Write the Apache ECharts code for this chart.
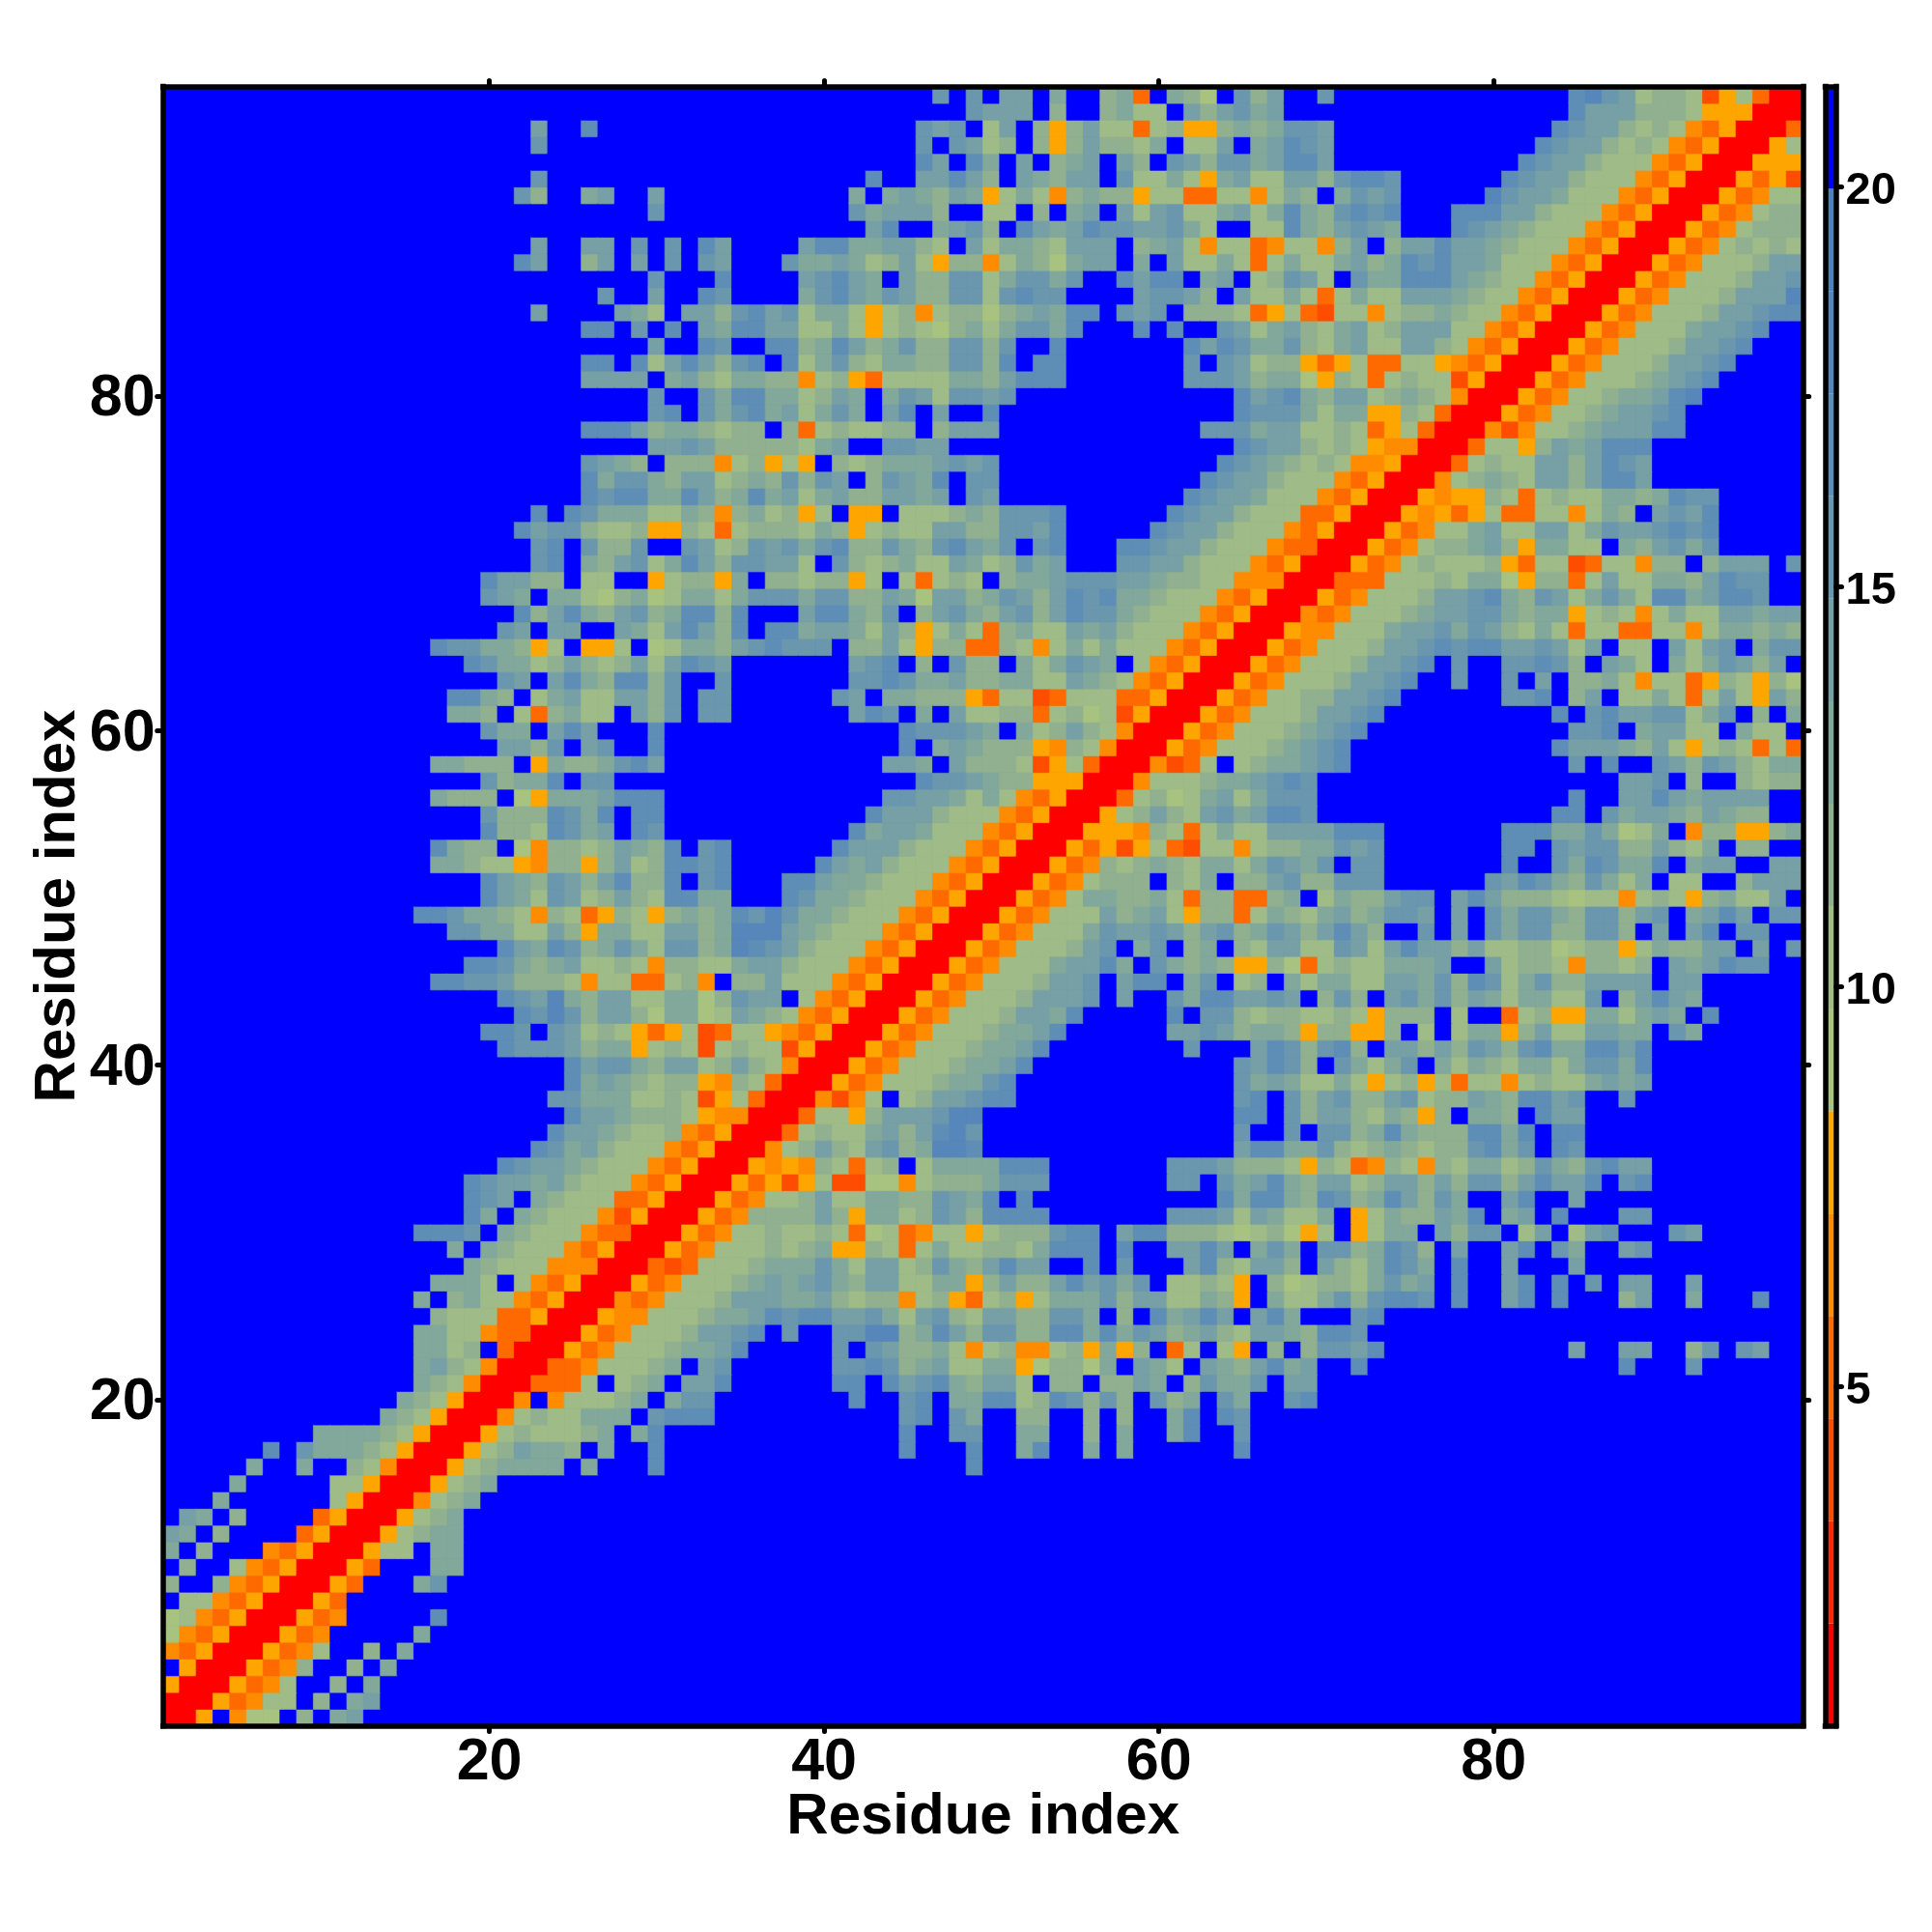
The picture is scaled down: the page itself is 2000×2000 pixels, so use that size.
<!DOCTYPE html>
<html><head><meta charset="utf-8">
<style>html,body{margin:0;padding:0;background:#fff}#c{width:2000px;height:2000px}</style>
<script src="https://cdn.jsdelivr.net/npm/echarts@6/dist/echarts.min.js"></script></head>
<body><div id="c"></div>
<script>
// Distance level per cell of the symmetric matrix. Each string is one row j = 1..98,
// starting at column i = j; one hex digit per cell, a level of 0..15. Omitted tail = level 15.
const rows = [
"005f466f8f9a",
"0053477f8f9a",
"005347ff8f9",
"005348ff8f9",
"005347ff8f9",
"00534fffff9",
"00534fffffc",
"0053",
"0053fff9b",
"0053fff99",
"00577f99",
"0057899",
"005789",
"004789",
"005789",
"005789999f9fffc ffffffffffffffffff c",
"00578a998f9ffc ffffffffffffff c fff c ff 9c ff 9 f 9 ffffff c",
"0057877789f9c ffffffffffffff c ff bb ff 99 ff 8 f 9 ff 9c ff b",
"0047877999fb ccc fffffffffff bc f b9 ff 88 ff 8f8 ff 9cfcb",
"004f477789f 9bb ffffffff c ff bc f 99 cc 78 cb 8b8 fb 89fb9 ff bc",
"003337f789 faac ffffff cc f c abc 98 aa 7f 88 f 88 a9 f8b99bf aa",
"003347778 9fab ffffff bbcb 89a 77 99 56 886 9fa9 7fa98ac9a ff c fffffffffffffff c fff b",
"00534777 899ac fffff bfba 889 74 78 44 785 958f 37f75f8f8 bbac fffffffffff a ff aa ff 8b f ba",
"0053477 78aabc fbff bbdd 89ca8 bb88cc9c9ba 89a87aa98ccb",
"005447 77899acbcc aab97ab87aa88bb9f8fc 9acafac9 fff bc",
"00434 7778aaa99a 8788478537 857999b8aa 77985f9779 b8bccbfcff acfcfff8af f9fffc",
"0053 477789a9ab 98aa779958 a88acab9bf 77875f8678 879b9afcff acfcfbfaaf fa",
"003 237778999b 97aa78b98a caaffcfbff fac87aa8fa 879cb9fcff afffafffff",
"00 5347778789 5587379778 879cccfcff aacaf9b9fb b89cb8faff acfb9ffabf",
"0 0534778778 7367347757 888bccfacc 8887678657 f5799fa8bb f7af7abfff ba",
"005348888a 859978ba8c cccfffffff bbba7a9779 f57988a9cf 9afcfffbbf",
"00534778a 779988ba9c fcffffffff fffc9cc98c b89ca8b9ff acffa",
"00535257 2266478889 bbbfffffff bbfb9ac98a a78aa8a8bb 8acaacfbcf",
"0054548 7378f79999 cccfffffff bbba888758 7348748799 78b98bcaaf",
"00478a 87ab89ddcf ffffffffff ffffacc99b 87898788bc 9bfcb",
"00378 779a8acdbf ffffffffff ffffbffbfb b89c9888cc 9cfcc",
"0037 758aaabddf ffffffffff ffffccfb8a a879858f99 8fcaa",
"004 247f78aabc cfffffffff ffffbcfb8a b88ab788a9 8ccabffbf",
"00 534777899b cfffffffff ffffb9a977 9757857377 478779a9af",
"0 0534777899 acffffffff ffffbacb8f b979bf9798 79979bb9cf",
"0053477789 9acfffffff fbfffacb8b c8faa8a8ba 8bc99ccacf",
"005347778 99acffffff aaba899858 8558f7f799 58a77aa99fb9",
"00534777 8aa9c fffff cfbb 8788 77875888f7ff378559979a9fc",
"005347778aaabfaffb9ccaaba f8b8fab9b8a979977bf8aca9",
"005347778aabfaccf9bf78f9 79977aa9b8cb79b88aaaafaa",
"005347779aac9fb98985586 37877999affa788748878fa9acbb",
"005347778abf9bf89f87aa 77ba7acaa8a7788678857988aafafb",
"005347779baaba8ab89ba 8aca8ffbfafb9bb88bb8fafacfbbff",
"00534777a89a75883798 79a89bbafafb9bb98bb8abf9acafbb",
"0053479988973883389 f7988abbfa ca88876774 78758977af",
"005347888f879f88ab 88bbbffffff bacb98b979f77ff8aaa",
"005348789879979ba 9bfbb fffffff cffb9cb99cf9aaffaa",
"0053525732774788 99bab fffffff ccfbabb88a879f88ff",
"0055548737977aa aaccc fffffff ccc99b9679f4885589",
"00578a87ab9acc b ffffffffffffff ccfb9aa98a988ff",
"00378679a79bb b fffffffffffffff cffaaca9aaaaff",
"004777899abc b ffffffffffffffffff aabf8ff8788",
"004237f7899 abc fffffffffffff bfcffba8ba8799",
"0053477789 abc ffffffffffff caaa98a75787373",
"005347778 9abc ffffffffffff bbcf9aa77f977f",
"00534777 8aabc ffffffffff cfbcaabb79bf8f9",
"0053477 88aabc ffffff bbcf8af779737a75a8",
"005347 778aabcffb ffbfaf8897 4773587586",
"00534 7778aabcfb ffbbcb8fa9 7f979ba8af",
"0053 47778aabcb ccaaba7af7 7fa7abf9bb",
"005 447779aab9 ba87973773 3774799898",
"00 43477789aa bb98995787 47977aa9aa",
"0 05347778aa bc98ba79b9 7cc9accbff",
"0033377787 99658837a7 7998acbbff",
"0053478777 8537723774 88f8aaafb",
"005347889a 859977f98a b9bfffff",
"00534779a7 7aa79baabc bcfffff",
"0054535733 774798faba cfffff",
"0054558737 8779989cbb fffff",
"00478987aa8acca",
"0037877aa8acba",
"0037758a9accc",
"004247789aaacc",
"005347789aabc",
"0053477899acd",
"0053477789abc",
"005347778aabc",
"005347778aabc",
"005347779aabc",
"005347778aabcc",
"005347778aaad",
"005347778aab",
"005347778aa",
"0053478787",
"005347888",
"00534788",
"0053477",
"005352",
"00555",
"0057",
"003",
"00",
"0"
];
const levelColors = ["#ff0000","#ff2a00","#ff4d00","#ff6a00","#ff8c00","#ffa500",
  "#a8c280","#9fbb87","#90b08f","#82a89b","#76a0a5","#6a97ae","#5e8eb5","#5787ba","#5080c0","#0000ff"];
const levelStart = 0.76, levelStep = 1.281;
const xTicks = ["20","40","60","80"];
const barTicks = [5,10,15,20];
const title = "Residue index";

const N = rows.length;
const cats = Array.from({length:N},(_,k)=>String(k+1));
const cells = [];
const cell = (x,y,lv)=>({
  value:[x,y,levelStart+levelStep*(lv+0.5)],
  itemStyle:{color:levelColors[lv],borderColor:levelColors[lv],borderWidth:0.7}
});
rows.forEach((r,jj)=>{
  const s = r.replace(/ /g,'').padEnd(N-jj,'f');
  for(let ii=jj;ii<N;ii++){
    const lv = parseInt(s[ii-jj],16);
    cells.push(cell(ii,jj,lv));
    if(ii!==jj) cells.push(cell(jj,ii,lv));
  }
});
const font = '"Liberation Sans", Arial, sans-serif';
const show = (idx,val)=>xTicks.includes(val);
const line = {show:true,onZero:false,lineStyle:{color:'#000',width:5.5,cap:'square'}};
const tick = {show:true,interval:show,alignWithLabel:true,length:6,lineStyle:{color:'#000',width:5,cap:'round'}};
const lab = {show:true,interval:show,color:'#000',fontFamily:font,fontWeight:'bold',fontSize:61};
const nameStyle = {color:'#000',fontFamily:font,fontWeight:'bold',fontSize:60};
const catAxis = o=>Object.assign({type:'category',data:cats,gridIndex:0,axisLine:line,axisTick:tick,splitLine:{show:false},z:10,boundaryGap:true},o);
const barBase = {type:'bar',stack:'c',xAxisIndex:2,yAxisIndex:2,barWidth:'100%',silent:true,animation:false};
const barSeries = levelColors.map((c,k)=>Object.assign({},barBase,{
  name:'L'+k,
  data:[ k===0 ? levelStart+levelStep : levelStep ],
  itemStyle:{color:c}
}));
const chart = echarts.init(document.getElementById('c'),null,{renderer:'canvas'});
chart.setOption({
  animation:false,
  backgroundColor:'#fff',
  grid:[
    {left:168.7,top:89.5,width:1698,height:1697,show:true,backgroundColor:'#0000ff',borderWidth:0},
    {left:1889.5,top:89.5,width:11,height:1697}
  ],
  xAxis:[
    catAxis({position:'bottom',axisLabel:Object.assign({},lab,{margin:8}),name:title,nameLocation:'middle',nameGap:65,nameMoveOverlap:false,nameTextStyle:nameStyle}),
    catAxis({position:'top',axisLabel:{show:false}}),
    {type:'category',data:['c'],gridIndex:1,position:'bottom',axisLine:line,axisTick:{show:false},axisLabel:{show:false},z:10},
    {type:'category',data:['c'],gridIndex:1,position:'top',axisLine:line,axisTick:{show:false},axisLabel:{show:false},z:10}
  ],
  yAxis:[
    catAxis({position:'left',axisLabel:Object.assign({},lab,{margin:8,verticalAlign:'top',padding:[-27,0,0,0]}),name:title,nameLocation:'middle',nameGap:78,nameMoveOverlap:false,nameRotate:90,nameTextStyle:nameStyle}),
    catAxis({position:'right',axisLabel:{show:false}}),
    {type:'value',gridIndex:1,position:'right',min:levelStart,max:levelStart+16*levelStep,splitLine:{show:false},axisLine:line,z:10,
     axisTick:{show:true,customValues:barTicks,length:6,lineStyle:{color:'#000',width:5,cap:'round'}},
     axisLabel:{show:true,customValues:barTicks,margin:10,verticalAlign:'top',padding:[-19,0,0,0],color:'#000',fontFamily:font,fontWeight:'bold',fontSize:47,formatter:v=>String(v)}},
    {type:'value',gridIndex:1,position:'left',min:levelStart,max:levelStart+16*levelStep,splitLine:{show:false},axisLine:line,axisTick:{show:false},axisLabel:{show:false},z:10}
  ],
  series:[{type:'heatmap',xAxisIndex:0,yAxisIndex:0,data:cells,progressive:0,silent:true,animation:false,emphasis:{disabled:true}}].concat(barSeries)
});
</script></body></html>
